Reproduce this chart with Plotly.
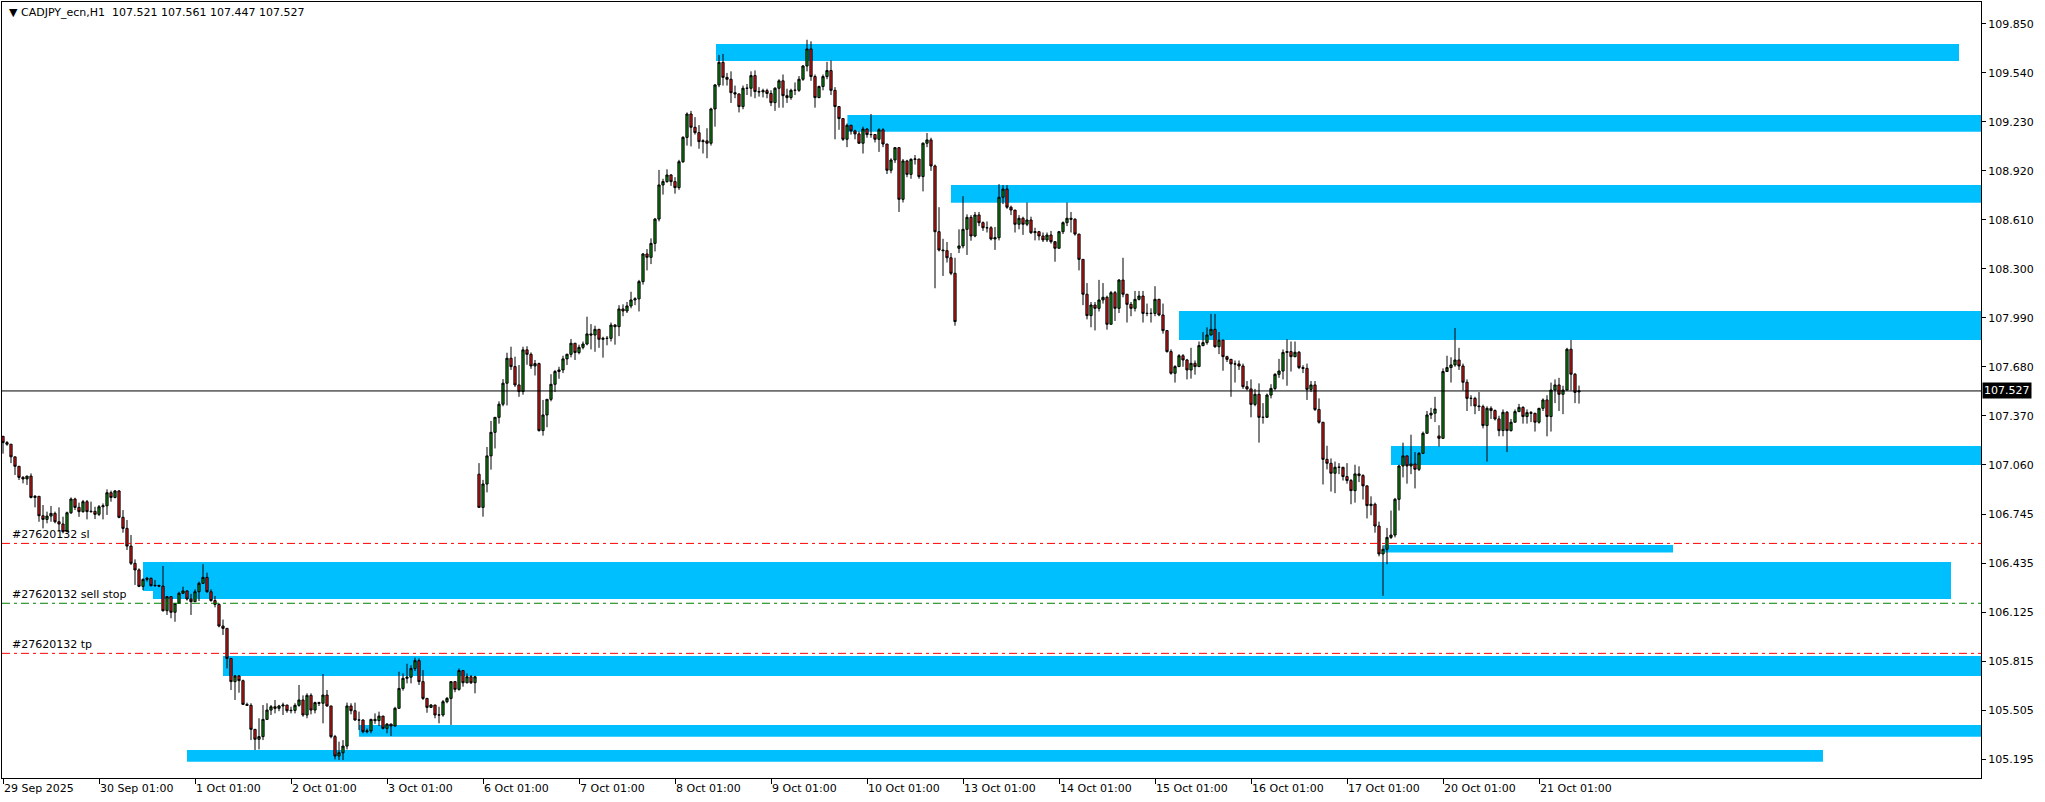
import plotly.graph_objects as go

# ---------------- data ----------------
symbol_title = "▼ CADJPY_ecn,H1\u00a0\u00a0107.521 107.561 107.447 107.527"

day_labels = ["29 Sep 2025", "30 Sep 01:00", "1 Oct 01:00", "2 Oct 01:00", "3 Oct 01:00",
              "6 Oct 01:00", "7 Oct 01:00", "8 Oct 01:00", "9 Oct 01:00", "10 Oct 01:00",
              "13 Oct 01:00", "14 Oct 01:00", "15 Oct 01:00", "16 Oct 01:00", "17 Oct 01:00",
              "20 Oct 01:00", "21 Oct 01:00"]

price_ticks = [105.195, 105.505, 105.815, 106.125, 106.435, 106.745, 107.060, 107.370,
               107.680, 107.990, 108.300, 108.610, 108.920, 109.230, 109.540, 109.850]

# H1 bars, one slot per hour (24 per trading day), first visible bar = 29 Sep 01:00
first_open = 107.24
gap_opens = {120: 107.00, 240: 108.43, 360: 107.242, 395: 107.521}   # weekend gaps / last bar

bar_high = [
    # 29 Sep (01:00-23:00)
    107.24, 107.21, 107.19, 107.11, 107.05, 106.988, 106.99, 107.005, 106.868, 106.86, 106.805, 106.763,
    106.799, 106.763, 106.79, 106.731, 106.763, 106.853, 106.851, 106.82, 106.837, 106.837, 106.826,
    # 30 Sep
    106.794, 106.805, 106.815, 106.904, 106.896, 106.90, 106.90, 106.773, 106.71, 106.615, 106.461, 106.404,
    106.341, 106.35, 106.345, 106.33, 106.30, 106.419, 106.229, 106.225, 106.182, 106.256, 106.288, 106.265,
    # 1 Oct
    106.242, 106.271, 106.32, 106.43, 106.377, 106.271, 106.229, 106.182, 106.08, 106.024, 105.834, 105.729,
    105.729, 105.70, 105.554, 105.55, 105.385, 105.455, 105.539, 105.55, 105.539, 105.571, 105.54, 105.554,
    # 2 Oct
    105.539, 105.528, 105.55, 105.666, 105.60, 105.613, 105.613, 105.56, 105.56, 105.735, 105.634, 105.533,
    105.35, 105.307, 105.317, 105.554, 105.55, 105.554, 105.497, 105.448, 105.39, 105.452, 105.486, 105.497,
    # 3 Oct
    105.47, 105.423, 105.419, 105.528, 105.75, 105.739, 105.80, 105.79, 105.839, 105.834, 105.76, 105.581,
    105.545, 105.539, 105.528, 105.571, 105.59, 105.687, 105.69, 105.77, 105.757, 105.739, 105.729, 105.723,
    # 6 Oct
    107.07, 106.964, 107.172, 107.337, 107.36, 107.461, 107.602, 107.769, 107.807, 107.744, 107.691, 107.807,
    107.81, 107.771, 107.723, 107.706, 107.47, 107.474, 107.633, 107.66, 107.68, 107.75, 107.763, 107.856,
    # 7 Oct
    107.829, 107.82, 107.84, 107.997, 107.95, 107.94, 107.92, 107.87, 107.875, 107.96, 107.95, 108.07,
    108.075, 108.09, 108.155, 108.12, 108.23, 108.40, 108.425, 108.493, 108.622, 108.926, 108.87, 108.93,
    # 8 Oct
    108.90, 108.88, 108.99, 109.14, 109.29, 109.30, 109.26, 109.21, 109.12, 109.19, 109.32, 109.47,
    109.654, 109.66, 109.54, 109.55, 109.46, 109.41, 109.46, 109.47, 109.55, 109.556, 109.45, 109.44,
    # 9 Oct
    109.44, 109.43, 109.45, 109.50, 109.53, 109.44, 109.44, 109.48, 109.52, 109.59, 109.75, 109.74,
    109.53, 109.46, 109.53, 109.61, 109.62, 109.45, 109.33, 109.25, 109.22, 109.21, 109.18, 109.17,
    # 10 Oct
    109.20, 109.19, 109.28, 109.15, 109.19, 109.19, 109.09, 109.0, 109.07, 109.07, 108.995, 108.99,
    109.0, 109.02, 108.995, 109.10, 109.16, 109.13, 108.96, 108.69, 108.49, 108.47, 108.40, 108.37,
    # 13 Oct
    108.55, 108.76, 108.645, 108.64, 108.66, 108.66, 108.60, 108.60, 108.57, 108.565, 108.836, 108.83,
    108.83, 108.70, 108.67, 108.64, 108.63, 108.72, 108.63, 108.56, 108.54, 108.53, 108.53, 108.54,
    # 14 Oct
    108.45, 108.54, 108.60, 108.72, 108.66, 108.62, 108.52, 108.36, 108.21, 108.09, 108.09, 108.23,
    108.21, 108.13, 108.16, 108.16, 108.235, 108.37, 108.14, 108.09, 108.16, 108.16, 108.16, 108.08,
    # 15 Oct
    108.05, 108.19, 108.11, 108.08, 107.91, 107.79, 107.69, 107.76, 107.76, 107.73, 107.80, 107.72,
    107.84, 107.90, 107.93, 108.015, 108.015, 107.90, 107.85, 107.75, 107.73, 107.72, 107.72, 107.70,
    # 16 Oct
    107.59, 107.60, 107.54, 107.575, 107.45, 107.51, 107.57, 107.64, 107.73, 107.79, 107.855, 107.84,
    107.84, 107.78, 107.69, 107.70, 107.59, 107.59, 107.48, 107.33, 107.18, 107.10, 107.08, 107.07,
    # 17 Oct
    107.03, 107.07, 106.97, 107.06, 107.05, 107.0, 106.93, 106.86, 106.82, 106.70, 106.55, 106.66,
    106.77, 106.85, 107.06, 107.20, 107.12, 107.25, 107.14, 107.14, 107.27, 107.40, 107.42, 107.49,
    # 20 Oct
    107.31, 107.67, 107.75, 107.74, 107.925, 107.80, 107.70, 107.60, 107.50, 107.49, 107.52, 107.44,
    107.43, 107.43, 107.41, 107.37, 107.41, 107.40, 107.35, 107.41, 107.445, 107.43, 107.41, 107.40,
    # 21 Oct
    107.38, 107.42, 107.48, 107.50, 107.58, 107.60, 107.61, 107.56, 107.80, 107.85, 107.64, 107.561,
]

bar_low = [
    # 29 Sep
    107.13, 107.18, 107.07, 106.995, 106.963, 106.942, 106.932, 106.847, 106.79, 106.699, 106.657, 106.689,
    106.699, 106.689, 106.636, 106.626, 106.636, 106.748, 106.773, 106.73, 106.756, 106.714, 106.756,
    # 30 Sep
    106.716, 106.735, 106.714, 106.742, 106.826, 106.847, 106.721, 106.63, 106.52, 106.425, 106.299, 106.285,
    106.267, 106.32, 106.29, 106.288, 106.285, 106.13, 106.109, 106.088, 106.066, 106.187, 106.242, 106.20,
    # 1 Oct
    106.109, 106.197, 106.197, 106.305, 106.25, 106.193, 106.157, 106.031, 105.982, 105.771, 105.634, 105.571,
    105.617, 105.543, 105.533, 105.317, 105.254, 105.258, 105.317, 105.444, 105.476, 105.486, 105.50, 105.476,
    # 2 Oct
    105.49, 105.486, 105.486, 105.528, 105.465, 105.455, 105.48, 105.486, 105.533, 105.423, 105.528, 105.328,
    105.195, 105.191, 105.191, 105.258, 105.48, 105.44, 105.38, 105.36, 105.36, 105.36, 105.42, 105.406,
    # 3 Oct
    105.385, 105.36, 105.343, 105.402, 105.518, 105.63, 105.676, 105.676, 105.754, 105.666, 105.571, 105.49,
    105.52, 105.455, 105.423, 105.465, 105.55, 105.413, 105.62, 105.63, 105.655, 105.676, 105.672, 105.613,
    # 6 Oct
    106.79, 106.731, 106.885, 107.029, 107.163, 107.32, 107.43, 107.435, 107.66, 107.553, 107.49, 107.503,
    107.693, 107.667, 107.625, 107.27, 107.244, 107.297, 107.461, 107.52, 107.604, 107.64, 107.691, 107.74,
    # 7 Oct
    107.723, 107.759, 107.79, 107.816, 107.79, 107.775, 107.80, 107.738, 107.816, 107.84, 107.82, 107.874,
    108.0, 108.02, 108.05, 108.07, 108.03, 108.20, 108.29, 108.33, 108.41, 108.60, 108.77, 108.845,
    # 8 Oct
    108.825, 108.776, 108.80, 108.97, 109.08, 109.075, 109.15, 109.06, 109.03, 109.0, 109.08, 109.20,
    109.45, 109.46, 109.46, 109.35, 109.38, 109.29, 109.31, 109.40, 109.39, 109.38, 109.39, 109.385,
    # 9 Oct
    109.38, 109.33, 109.30, 109.32, 109.32, 109.35, 109.37, 109.40, 109.42, 109.49, 109.55, 109.49,
    109.32, 109.38, 109.43, 109.50, 109.40, 109.12, 109.18, 109.11, 109.07, 109.15, 109.12, 109.09,
    # 10 Oct
    109.03, 109.13, 109.13, 109.10, 109.04, 109.07, 108.90, 108.905, 108.97, 108.66, 108.72, 108.88,
    108.87, 108.96, 108.87, 108.79, 109.07, 108.92, 108.177, 108.41, 108.255, 108.34, 108.26, 107.94,
    # 13 Oct
    108.40, 108.43, 108.388, 108.478, 108.50, 108.57, 108.54, 108.53, 108.48, 108.42, 108.48, 108.71,
    108.68, 108.64, 108.53, 108.55, 108.515, 108.57, 108.52, 108.48, 108.48, 108.47, 108.47, 108.46,
    # 14 Oct
    108.345, 108.43, 108.52, 108.57, 108.53, 108.51, 108.29, 108.07, 107.98, 107.93, 107.91, 108.03,
    108.08, 107.915, 107.95, 107.97, 108.02, 108.12, 107.96, 108.00, 108.03, 108.10, 107.96, 108.00,
    # 15 Oct
    107.96, 108.0, 108.0, 107.89, 107.77, 107.63, 107.58, 107.68, 107.68, 107.60, 107.605, 107.63,
    107.68, 107.81, 107.82, 107.88, 107.80, 107.76, 107.655, 107.71, 107.49, 107.58, 107.66, 107.54,
    # 16 Oct
    107.53, 107.36, 107.43, 107.20, 107.32, 107.37, 107.48, 107.53, 107.61, 107.60, 107.56, 107.65,
    107.74, 107.665, 107.64, 107.47, 107.52, 107.40, 107.32, 106.935, 107.03, 106.89, 106.88, 107.0,
    # 17 Oct
    106.96, 106.94, 106.81, 106.82, 106.95, 106.84, 106.72, 106.74, 106.63, 106.48, 106.23, 106.43,
    106.59, 106.60, 106.77, 106.98, 106.94, 107.0, 106.91, 107.02, 107.13, 107.26, 107.35, 107.33,
    # 20 Oct
    107.175, 107.225, 107.66, 107.58, 107.68, 107.66, 107.53, 107.40, 107.43, 107.38, 107.40, 107.29,
    107.08, 107.35, 107.34, 107.24, 107.24, 107.14, 107.27, 107.33, 107.40, 107.32, 107.32, 107.33,
    # 21 Oct
    107.27, 107.32, 107.40, 107.24, 107.27, 107.45, 107.40, 107.38, 107.53, 107.53, 107.45, 107.447,
]

bar_close = [
    # 29 Sep
    107.20, 107.19, 107.11, 107.05, 106.98, 106.97, 106.988, 106.853, 106.86, 106.737, 106.714, 106.735,
    106.752, 106.699, 106.685, 106.636, 106.756, 106.843, 106.79, 106.763, 106.826, 106.763, 106.765,
    # 30 Sep
    106.746, 106.794, 106.80, 106.883, 106.853, 106.894, 106.727, 106.657, 106.545, 106.436, 106.394, 106.29,
    106.334, 106.341, 106.294, 106.296, 106.292, 106.136, 106.225, 106.126, 106.182, 106.246, 106.261, 106.21,
    # 1 Oct
    106.193, 106.256, 106.309, 106.347, 106.256, 106.20, 106.176, 106.039, 106.024, 105.834, 105.687, 105.723,
    105.693, 105.543, 105.537, 105.385, 105.322, 105.339, 105.448, 105.507, 105.528, 105.518, 105.533, 105.539,
    # 2 Oct
    105.503, 105.505, 105.537, 105.571, 105.476, 105.60, 105.507, 105.554, 105.55, 105.602, 105.533, 105.339,
    105.216, 105.237, 105.279, 105.533, 105.503, 105.444, 105.444, 105.37, 105.375, 105.448, 105.44, 105.469,
    # 3 Oct
    105.391, 105.419, 105.406, 105.518, 105.644, 105.708, 105.715, 105.77, 105.82, 105.687, 105.581, 105.524,
    105.539, 105.476, 105.476, 105.56, 105.581, 105.687, 105.638, 105.757, 105.68, 105.718, 105.68, 105.718,
    # 6 Oct
    106.79, 106.938, 107.116, 107.265, 107.36, 107.443, 107.576, 107.734, 107.681, 107.565, 107.523, 107.787,
    107.759, 107.685, 107.70, 107.276, 107.375, 107.474, 107.569, 107.65, 107.66, 107.73, 107.759, 107.829,
    # 7 Oct
    107.77, 107.803, 107.824, 107.888, 107.881, 107.917, 107.854, 107.86, 107.86, 107.944, 107.934, 108.046,
    108.033, 108.065, 108.103, 108.11, 108.219, 108.394, 108.373, 108.461, 108.615, 108.831, 108.852, 108.894,
    # 8 Oct
    108.852, 108.814, 108.978, 109.132, 109.28, 109.196, 109.162, 109.105, 109.11, 109.095, 109.312, 109.464,
    109.607, 109.512, 109.50, 109.415, 109.407, 109.327, 109.443, 109.443, 109.523, 109.422, 109.42, 109.428,
    # 9 Oct
    109.41, 109.352, 109.443, 109.49, 109.396, 109.384, 109.43, 109.43, 109.50, 109.584, 109.692, 109.517,
    109.384, 109.454, 109.517, 109.555, 109.43, 109.327, 109.251, 109.12, 109.209, 109.173, 109.154, 109.095,
    # 10 Oct
    109.185, 109.15, 109.15, 109.12, 109.18, 109.09, 108.924, 108.989, 109.067, 108.74, 108.983, 108.898,
    108.993, 108.995, 108.884, 109.095, 109.116, 108.951, 108.535, 108.419, 108.415, 108.37, 108.272, 107.966,
    # 13 Oct
    108.445, 108.55, 108.626, 108.508, 108.641, 108.592, 108.56, 108.56, 108.489, 108.497, 108.753, 108.805,
    108.69, 108.672, 108.582, 108.62, 108.582, 108.609, 108.529, 108.535, 108.508, 108.483, 108.514, 108.472,
    # 14 Oct
    108.43, 108.535, 108.592, 108.62, 108.614, 108.52, 108.36, 108.139, 108.004, 108.071, 108.05, 108.103,
    108.12, 107.949, 108.149, 108.05, 108.229, 108.139, 108.075, 108.05, 108.107, 108.128, 108.018, 108.018,
    # 15 Oct
    108.018, 108.107, 108.008, 107.909, 107.776, 107.639, 107.681, 107.75, 107.723, 107.66, 107.702, 107.681,
    107.814, 107.833, 107.881, 107.917, 107.807, 107.849, 107.744, 107.727, 107.698, 107.698, 107.685, 107.554,
    # 16 Oct
    107.54, 107.442, 107.506, 107.36, 107.36, 107.501, 107.543, 107.632, 107.653, 107.771, 107.776, 107.744,
    107.772, 107.675, 107.67, 107.537, 107.565, 107.41, 107.329, 107.094, 107.069, 107.006, 107.044, 107.044,
    # 17 Oct
    106.985, 106.96, 106.896, 107.002, 106.991, 106.926, 106.801, 106.81, 106.672, 106.495, 106.525, 106.60,
    106.615, 106.841, 107.052, 107.116, 107.052, 107.065, 107.031, 107.132, 107.259, 107.375, 107.386, 107.413,
    # 20 Oct
    107.227, 107.65, 107.675, 107.692, 107.723, 107.685, 107.582, 107.48, 107.48, 107.432, 107.428, 107.308,
    107.417, 107.403, 107.35, 107.276, 107.392, 107.276, 107.329, 107.396, 107.423, 107.365, 107.39, 107.386,
    # 21 Oct
    107.329, 107.417, 107.47, 107.365, 107.533, 107.565, 107.506, 107.533, 107.791, 107.633, 107.518, 107.527,
]

# supply / demand rectangles (start bar, end bar, upper price, lower price)
zone_start = [179.25, 212.1, 238.0, 295.0, 348.0, 346.2, 36.0, 38.5, 56.0, 90.0, 47.0]
zone_end = [490.0, 520.0, 520.0, 520.0, 520.0, 418.5, 488.0, 488.0, 520.0, 520.0, 456.0]
zone_top = [109.723, 109.274, 108.831, 108.033, 107.179, 106.552, 106.444, 106.444, 105.849, 105.412, 105.254]
zone_bottom = [109.616, 109.168, 108.719, 107.849, 107.059, 106.504, 106.260, 106.210, 105.722, 105.338, 105.180]

# pending order levels
order_labels = ["#27620132 sl", "#27620132 sell stop", "#27620132 tp"]
order_prices = [106.562, 106.183, 105.866]
order_colors = ["#FF0000", "#008000", "#FF0000"]

bid_price = 107.527

# ---------------- build ----------------
bar_index = list(range(1, len(bar_close) + 1))
bar_open = []
prev_close = first_open
for i, c in zip(bar_index, bar_close):
    bar_open.append(gap_opens.get(i, prev_close))
    prev_close = c

tick_bars = [1 + 24 * d for d in range(len(day_labels))]

fig = go.Figure()
fig.add_trace(go.Candlestick(
    x=bar_index, open=bar_open, high=bar_high, low=bar_low, close=bar_close,
    increasing=dict(line=dict(color="black", width=1), fillcolor="#118C11"),
    decreasing=dict(line=dict(color="black", width=1), fillcolor="#E01B1B"),
    whiskerwidth=0, showlegend=False,
))

shapes = []
for x0, x1, y1, y0 in zip(zone_start, zone_end, zone_top, zone_bottom):
    shapes.append(dict(type="rect", xref="x", yref="y", x0=x0, x1=x1, y0=y0, y1=y1,
                       fillcolor="#00BFFF", line=dict(width=0), layer="below"))
for p, col in zip(order_prices, order_colors):
    shapes.append(dict(type="line", xref="paper", yref="y", x0=0, x1=1, y0=p, y1=p,
                       line=dict(color=col, width=1, dash="8px,4px,3px,4px"), layer="above"))
shapes.append(dict(type="line", xref="paper", yref="y", x0=0, x1=1, y0=bid_price, y1=bid_price,
                   line=dict(color="black", width=1), layer="above"))

annotations = [dict(xref="paper", yref="paper", x=0.0025, y=0.986, xanchor="left", yanchor="middle",
                    text=symbol_title, showarrow=False, font=dict(size=11, color="black"))]
for lbl, p in zip(order_labels, order_prices):
    annotations.append(dict(xref="paper", yref="y", x=0.004, y=p, xanchor="left", yanchor="bottom",
                            text=lbl, showarrow=False, font=dict(size=11, color="black")))
annotations.append(dict(xref="paper", yref="y", x=1, y=bid_price, xanchor="left", yanchor="middle",
                        xshift=1, text=f"{bid_price:.3f}", showarrow=False, bgcolor="black",
                        borderpad=1, font=dict(size=11, color="white")))

fig.update_layout(
    width=2045, height=802,
    margin=dict(l=2, r=64, t=2, b=24),
    paper_bgcolor="white", plot_bgcolor="white",
    font=dict(family="DejaVu Sans", size=11, color="black"),
    showlegend=False,
    boxgap=0.45, boxgroupgap=0,
    shapes=shapes, annotations=annotations,
)
fig.update_xaxes(
    type="linear", range=[0.75, 495.5],
    tickvals=tick_bars, ticktext=day_labels,
    ticks="outside", ticklen=5, tickcolor="black", ticklabelposition="outside right",
    showgrid=False, zeroline=False, showline=True, mirror=True, linecolor="black", linewidth=1,
    rangeslider=dict(visible=False),
)
fig.update_yaxes(
    side="right", range=[105.077, 109.989],
    tickvals=price_ticks, ticktext=[f"{v:.3f}" for v in price_ticks],
    ticks="outside", ticklen=4, tickcolor="black",
    showgrid=False, zeroline=False, showline=True, mirror=True, linecolor="black", linewidth=1,
)

# remove the default 8px page margin so the figure sits at the window origin
fig.write_html("out.html", config={"displayModeBar": False},
               post_script="document.body.style.margin='0';")
